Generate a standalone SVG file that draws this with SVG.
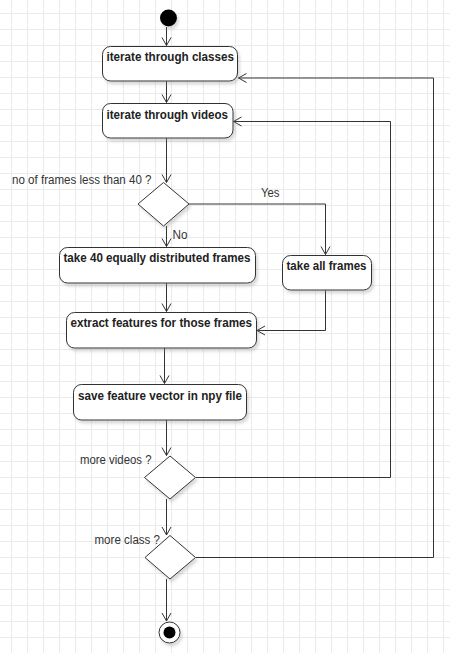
<svg xmlns="http://www.w3.org/2000/svg" width="450" height="653" viewBox="0 0 450 653">
<defs>
<pattern id="grid" x="11" y="13" width="16" height="16" patternUnits="userSpaceOnUse">
<path d="M0.5 0V16M0 0.5H16" fill="none" stroke="#ebebeb" stroke-width="1"/>
</pattern>
<filter id="sh" x="-20%" y="-20%" width="150%" height="150%">
<feDropShadow dx="2" dy="3" stdDeviation="1.5" flood-color="#808080" flood-opacity="0.3"/>
</filter>
<marker id="arr" markerWidth="10" markerHeight="12" refX="9" refY="6" orient="auto" markerUnits="userSpaceOnUse">
<path d="M1 1.5L9 6L1 10.5" fill="none" stroke="#333" stroke-width="1"/>
</marker>
</defs>
<style>
.box{fill:#fff;stroke:#333;stroke-width:1;filter:url(#sh)}
.dia{fill:#fff;stroke:#333;stroke-width:1;filter:url(#sh)}
.lbl{font-family:"Liberation Sans",Arial,sans-serif;font-size:12px;font-weight:bold;fill:#222}
.txt{font-family:"Liberation Sans",Arial,sans-serif;font-size:12px;fill:#333}
.edge{fill:none;stroke:#333;stroke-width:1;marker-end:url(#arr)}
</style>
<rect width="450" height="653" fill="#fff"/>
<rect width="450" height="653" fill="url(#grid)"/>

<g id="connectors">
<path class="edge" d="M166.5 27V45.5"/>
<path class="edge" d="M166.5 81V102.5"/>
<path class="edge" d="M166.5 138V182.5"/>
<path class="edge" d="M189 204H325.5V254.5"/>
<path class="edge" d="M166.5 226V246.5"/>
<path class="edge" d="M166.5 283V311.5"/>
<path class="edge" d="M325.5 290V330.5H257"/>
<path class="edge" d="M164.5 348V383.5"/>
<path class="edge" d="M166.5 420V455.5"/>
<path class="edge" d="M196 477.5H390.5V121.5H233.5"/>
<path class="edge" d="M166.5 499V535"/>
<path class="edge" d="M196 557.5H433.5V78H238.5"/>
<path class="edge" d="M166.5 579V621"/>
</g>

<g id="start">
<circle cx="168.5" cy="18" r="8.5" fill="#000" filter="url(#sh)"/>
</g>

<g id="iterate-classes">
<rect class="box" x="102.5" y="46.5" width="135" height="34.5" rx="8"/>
<text class="lbl" x="106.5" y="61" textLength="127.5" lengthAdjust="spacingAndGlyphs">iterate through classes</text>
</g>

<g id="iterate-videos">
<rect class="box" x="102.5" y="103.5" width="130.5" height="34.5" rx="8"/>
<text class="lbl" x="106.5" y="118.5" textLength="121.5" lengthAdjust="spacingAndGlyphs">iterate through videos</text>
</g>

<g id="decision-frames">
<polygon class="dia" points="163.5,182.5 189,204 163.5,226 138,204"/>
<text class="txt" x="12" y="184" textLength="139.5" lengthAdjust="spacingAndGlyphs">no of frames less than 40 ?</text>
<text class="txt" x="261" y="197" textLength="18.5" lengthAdjust="spacingAndGlyphs">Yes</text>
<text class="txt" x="172.5" y="239" textLength="15" lengthAdjust="spacingAndGlyphs">No</text>
</g>

<g id="take-40">
<rect class="box" x="59.5" y="247.5" width="196" height="35.5" rx="8"/>
<text class="lbl" x="63.5" y="262" textLength="187" lengthAdjust="spacingAndGlyphs">take 40 equally distributed frames</text>
</g>

<g id="take-all">
<rect class="box" x="282.5" y="255.5" width="89" height="34.5" rx="8"/>
<text class="lbl" x="286.5" y="269.5" textLength="80" lengthAdjust="spacingAndGlyphs">take all frames</text>
</g>

<g id="extract">
<rect class="box" x="66.5" y="312.5" width="190" height="35.5" rx="8"/>
<text class="lbl" x="70.5" y="327" textLength="181.5" lengthAdjust="spacingAndGlyphs">extract features for those frames</text>
</g>

<g id="save">
<rect class="box" x="73.5" y="384.5" width="173" height="35.5" rx="8"/>
<text class="lbl" x="78" y="399.5" textLength="164" lengthAdjust="spacingAndGlyphs">save feature vector in npy file</text>
</g>

<g id="decision-videos">
<polygon class="dia" points="170,456 195.5,477.5 170,499 144.5,477.5"/>
<text class="txt" x="80" y="463.5" textLength="71.5" lengthAdjust="spacingAndGlyphs">more videos ?</text>
</g>

<g id="decision-class">
<polygon class="dia" points="170,535.5 195.5,557.5 170,579 145,557.5"/>
<text class="txt" x="94.5" y="543.5" textLength="65.5" lengthAdjust="spacingAndGlyphs">more class ?</text>
</g>

<g id="end">
<circle cx="169.5" cy="632.5" r="10.5" fill="#fff" stroke="#333" stroke-width="1" filter="url(#sh)"/>
<circle cx="169.5" cy="632.5" r="6" fill="#000"/>
</g>
</svg>
